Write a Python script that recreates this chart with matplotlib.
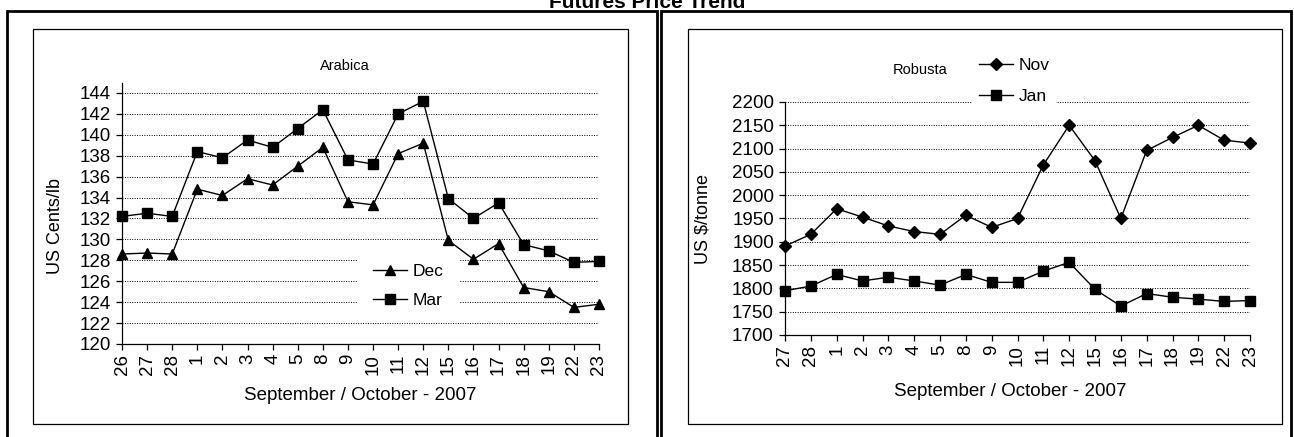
import matplotlib
matplotlib.use("Agg")
import matplotlib.pyplot as plt
from matplotlib.patches import Rectangle

plt.rcParams['font.family'] = ['Liberation Sans', 'DejaVu Sans']

# ---------------- data ----------------
arabica_days = ["26", "27", "28", "1", "2", "3", "4", "5", "8", "9", "10",
                "11", "12", "15", "16", "17", "18", "19", "22", "23"]
arabica_dec = [128.6, 128.7, 128.6, 134.8, 134.2, 135.8, 135.2, 137.0, 138.8, 133.6,
               133.3, 138.2, 139.2, 129.9, 128.1, 129.6, 125.4, 125.0, 123.5, 123.8]
arabica_mar = [132.2, 132.5, 132.2, 138.4, 137.8, 139.5, 138.8, 140.6, 142.4, 137.6,
               137.2, 142.0, 143.2, 133.9, 132.0, 133.5, 129.5, 128.9, 127.8, 127.9]

robusta_days = ["27", "28", "1", "2", "3", "4", "5", "8", "9", "10",
                "11", "12", "15", "16", "17", "18", "19", "22", "23"]
robusta_nov = [1891, 1916, 1971, 1953, 1934, 1922, 1916, 1957, 1931, 1950,
               2065, 2150, 2074, 1950, 2096, 2124, 2150, 2118, 2112]
robusta_jan = [1795, 1805, 1830, 1816, 1824, 1816, 1807, 1830, 1813, 1813,
               1837, 1856, 1798, 1762, 1789, 1781, 1777, 1772, 1774]

W, H = 1294, 437
fig = plt.figure(figsize=(W / 100, H / 100), dpi=100)


def fx(px):
    return px / W


def fy(py):
    return 1 - py / H


# ---------------- frames ----------------
def rect(x0, y0, x1, y1, lw, color='black'):
    fig.patches.append(Rectangle((fx(x0), fy(y1)), fx(x1) - fx(x0), fy(y0) - fy(y1),
                                 transform=fig.transFigure, fill=False,
                                 edgecolor=color, linewidth=lw, zorder=0))

rect(7, 11, 657, 460, 2.0)
rect(661, 11, 1291, 460, 2.0)
rect(33, 29, 628, 424, 0.9)
rect(688, 29, 1282, 424, 0.9)

fig.text(fx(647), fy(8), "Futures Price Trend", ha='center', va='baseline',
         fontsize=15, fontweight='bold')

tick_fs = 13.5


def style_axes(ax):
    for s in ['top', 'right']:
        ax.spines[s].set_visible(False)
    for s in ['left', 'bottom']:
        ax.spines[s].set_linewidth(0.9)
    ax.tick_params(axis='both', direction='out', length=4, width=0.9,
                   labelsize=tick_fs)
    ax.tick_params(axis='y', pad=4)
    ax.tick_params(axis='x', rotation=90, pad=3)
    ax.yaxis.grid(True, color='black', linestyle=(0, (1, 1.5)), linewidth=0.7)
    ax.set_axisbelow(True)


# ---------------- Arabica ----------------
axL = fig.add_axes([fx(122), fy(344), fx(599) - fx(122), fy(82.5) - fy(344)])
xL = list(range(len(arabica_days)))
axL.plot(xL, arabica_dec, color='black', lw=1.0, marker='^', markersize=7,
         label='Dec', clip_on=False, zorder=3)
axL.plot(xL, arabica_mar, color='black', lw=1.0, marker='s', markersize=6.5,
         label='Mar', clip_on=False, zorder=3)
axL.set_xlim(0, len(arabica_days) - 1)
axL.set_ylim(120, 145)
axL.set_yticks(range(120, 145, 2))
axL.set_xticks(xL)
axL.set_xticklabels(arabica_days)
style_axes(axL)
axL.set_ylabel("US Cents/lb", fontsize=13, va='center')
axL.yaxis.set_label_coords((55 - 122) / 477, (344 - 226) / 261.5)
axL.legend(loc='center', bbox_to_anchor=(fx(408), fy(286)),
           bbox_transform=fig.transFigure, frameon=True, fancybox=False,
           edgecolor='none', facecolor='white', framealpha=1,
           fontsize=12.5, handlelength=2.0, handletextpad=0.3,
           labelspacing=0.75, borderpad=0.9)
fig.text(fx(345), fy(66), "Arabica", ha='center', va='center', fontsize=10.5)
fig.text(fx(360), fy(395), "September / October - 2007", ha='center', va='center',
         fontsize=13.5)

# ---------------- Robusta ----------------
axR = fig.add_axes([fx(785), fy(335), fx(1250) - fx(785), fy(102) - fy(335)])
xR = list(range(len(robusta_days)))
axR.plot(xR, robusta_nov, color='black', lw=1.0, marker='D', markersize=6,
         label='Nov', clip_on=False, zorder=3)
axR.plot(xR, robusta_jan, color='black', lw=1.0, marker='s', markersize=6.5,
         label='Jan', clip_on=False, zorder=3)
axR.set_xlim(0, len(robusta_days) - 1)
axR.set_ylim(1700, 2200)
axR.set_yticks(range(1700, 2201, 50))
axR.set_xticks(xR)
axR.set_xticklabels(robusta_days)
style_axes(axR)
axR.set_ylabel("US $/tonne", fontsize=13, va='center')
axR.yaxis.set_label_coords((703 - 785) / 465, (335 - 219) / 233)
axR.legend(loc='center', bbox_to_anchor=(fx(1014), fy(81)),
           bbox_transform=fig.transFigure, frameon=True, fancybox=False,
           edgecolor='none', facecolor='white', framealpha=1,
           fontsize=12.5, handlelength=2.0, handletextpad=0.3,
           labelspacing=0.9, borderpad=0.4)
fig.text(fx(920), fy(70), "Robusta", ha='center', va='center', fontsize=10.5)
fig.text(fx(1010), fy(392), "September / October - 2007", ha='center', va='center',
         fontsize=13.5)

fig.savefig("out.png", dpi=100)
